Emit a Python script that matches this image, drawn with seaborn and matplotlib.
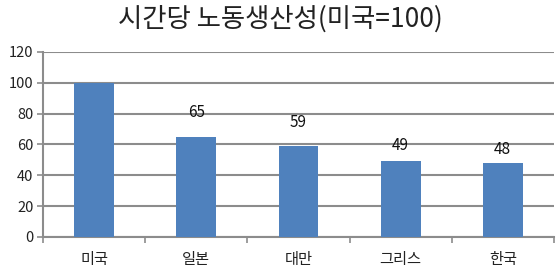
import matplotlib
matplotlib.use("Agg")
import matplotlib.pyplot as plt
import seaborn as sns
import pandas as pd

countries = ["미국", "일본", "대만", "그리스", "한국"]
values = [100, 65, 59, 49, 48]
yticks = [0, 20, 40, 60, 80, 100, 120]

sns.set_theme(style="white")
plt.rcParams['font.family'] = ['Noto Sans CJK KR', 'DejaVu Sans']

df = pd.DataFrame({"country": countries, "value": values})

fig = plt.figure(figsize=(5.6, 2.68), dpi=100)
ax = fig.add_axes([0.077, 0.116, 0.912, 0.69])

sns.barplot(data=df, x="country", y="value", color="#4F81BD", width=0.39,
            saturation=1, ax=ax, zorder=3, edgecolor="none", linewidth=0)

ax.set_ylim(0, 120)
ax.set_xlim(-0.5, len(countries) - 0.5)
ax.set_yticks(yticks)
ax.set_yticklabels([str(v) for v in yticks], fontsize=10.5, color="#222222")
ax.yaxis.grid(True, color="#8c8c8c", linewidth=1.5, zorder=0)
ax.set_axisbelow(True)
ax.set_xlabel("")
ax.set_ylabel("")
ax.tick_params(axis="x", length=0, labelsize=11, pad=10, colors="#222222")
ax.tick_params(axis="y", length=4, width=1.2, color="#8c8c8c", pad=3, left=True)

# category boundary ticks on x axis
ax.set_xticks([i - 0.5 for i in range(len(countries) + 1)], minor=True)
ax.tick_params(axis="x", which="minor", length=4, width=1.2, color="#8c8c8c", bottom=True)

for s in ["top", "right"]:
    ax.spines[s].set_visible(False)
for s in ["left", "bottom"]:
    ax.spines[s].set_color("#8c8c8c")
    ax.spines[s].set_linewidth(1.5)

label_offsets = [0, 16, 15, 10.5, 8.5]
for i, v in enumerate(values):
    if i == 0:
        continue
    ax.text(i, v + label_offsets[i], str(v), ha="center", va="center",
            fontsize=11, color="#111111")

fig.text(0.5, 0.93, "시간당 노동생산성(미국=100)", ha="center", va="center",
         fontsize=19, color="#222222")

fig.savefig("out.png", dpi=100)
